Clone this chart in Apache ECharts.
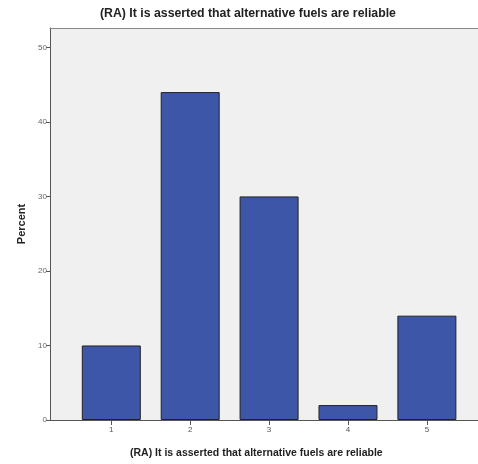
<!DOCTYPE html>
<html><head><meta charset="utf-8">
<script src="https://cdn.jsdelivr.net/npm/echarts@6/dist/echarts.min.js"></script>
<style>html,body{margin:0;padding:0;background:#fff}#c{width:478px;height:464px}</style>
</head><body><div id="c"></div>
<script>
const categories = [1, 2, 3, 4, 5];
const percents = [10, 44, 30, 2, 14];
const yTicks = [0, 10, 20, 30, 40, 50];
const titleText = '(RA) It is asserted that alternative fuels are reliable';

const chart = echarts.init(document.getElementById('c'), null, {renderer: 'canvas'});
chart.setOption({
  animation: false,
  graphic: [{
    type: 'text', left: 100, top: 8,
    style: {text: titleText, fontFamily: 'Liberation Sans', fontSize: 12.3, fontWeight: 'bold', fill: '#222'}
  }, {
    type: 'text', left: 130, top: 448,
    style: {text: titleText, fontFamily: 'Liberation Sans', fontSize: 10.5, fontWeight: 'bold', fill: '#222'}
  }],
  grid: {
    left: 50, right: 0, top: 28, bottom: 44, show: true,
    backgroundColor: '#f0f0f0', borderWidth: 0
  },
  xAxis: [{
    type: 'value', min: 0.223, max: 5.648,
    splitLine: {show: false},
    axisLine: {lineStyle: {color: '#555', width: 1}},
    axisTick: {customValues: categories, length: 5, lineStyle: {color: '#555'}},
    axisLabel: {customValues: categories, fontSize: 8, color: '#555', fontFamily: 'Liberation Sans', margin: 6}
  }, {
    type: 'value', position: 'top', min: 0.223, max: 5.648,
    splitLine: {show: false},
    axisLine: {show: true, lineStyle: {color: '#888', width: 1}},
    axisTick: {show: false}, axisLabel: {show: false}
  }],
  yAxis: {
    type: 'value', min: 0, max: 52.6,
    name: 'Percent', nameLocation: 'middle', nameGap: 22, nameRotate: 90,
    nameTextStyle: {fontFamily: 'Liberation Sans', fontSize: 11, fontWeight: 'bold', color: '#222'},
    splitLine: {show: false},
    axisLine: {show: true, lineStyle: {color: '#555', width: 1}},
    axisTick: {show: true, customValues: yTicks, length: 4, lineStyle: {color: '#555'}},
    axisLabel: {customValues: yTicks, fontSize: 8, color: '#666', fontFamily: 'Liberation Sans', margin: 3}
  },
  series: [{
    type: 'bar', barWidth: 59, xAxisIndex: 0,
    data: categories.map((c, i) => [c, percents[i]]),
    itemStyle: {color: '#3d56a8', borderColor: '#222', borderWidth: 1}
  }]
});
</script></body></html>
